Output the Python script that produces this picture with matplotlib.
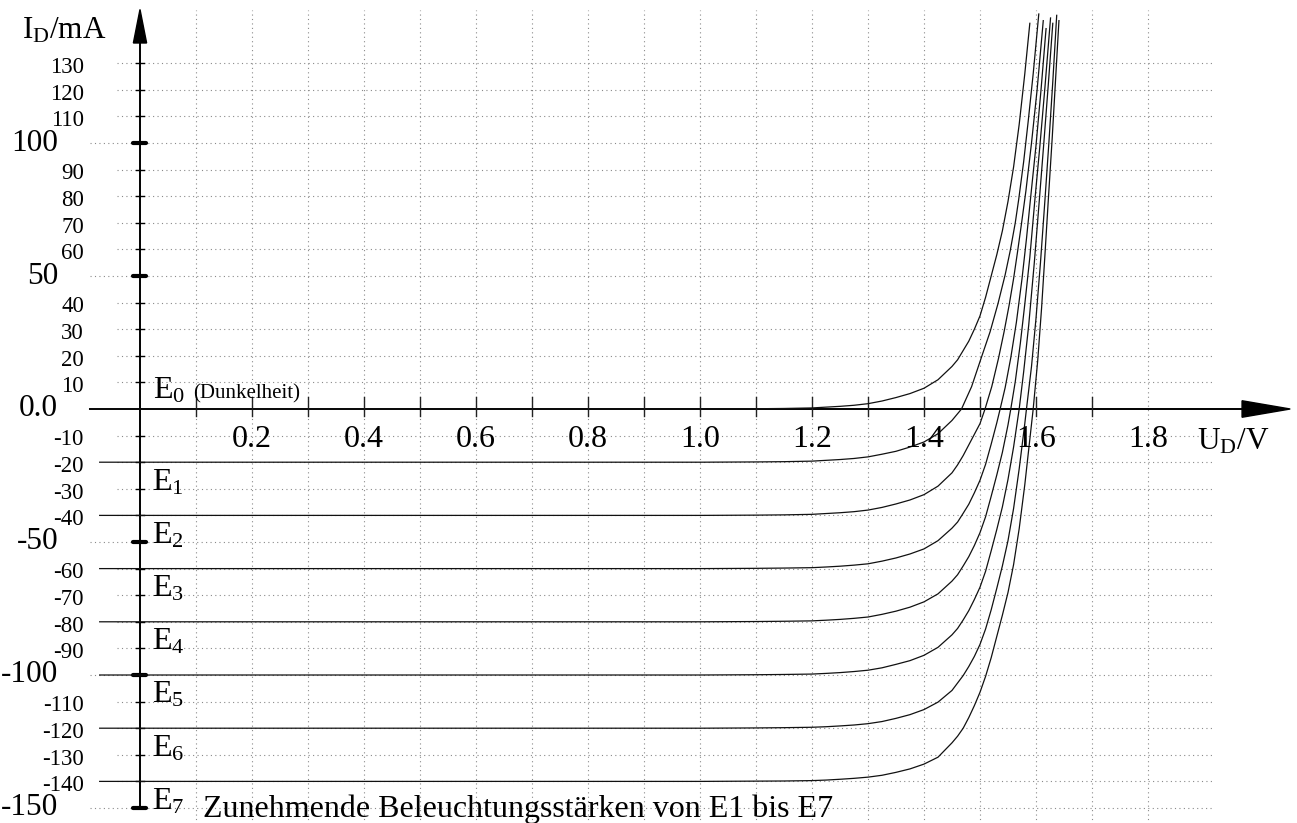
import matplotlib
matplotlib.use('Agg')
import matplotlib.pyplot as plt
from matplotlib.patches import Polygon

plt.rcParams['font.family'] = ['Liberation Serif', 'DejaVu Serif']
plt.rcParams['mathtext.fontset'] = 'custom'
plt.rcParams['mathtext.rm'] = 'Liberation Serif'
plt.rcParams['mathtext.it'] = 'Liberation Serif:italic'

# Kennlinien E0 (Dunkelheit) bis E7: U_D in V, I_D in mA
U0 = [-0.09, 1.0, 1.1, 1.15, 1.2, 1.225, 1.25, 1.275, 1.3, 1.325, 1.35, 1.375, 1.4, 1.425,
      1.45, 1.46, 1.47, 1.48, 1.49, 1.50, 1.51, 1.52, 1.53, 1.54, 1.55, 1.56, 1.57, 1.58, 1.589]
I0 = [0, 0, 0.1, 0.2, 0.4, 0.7, 1.0, 1.4, 2.0, 3.0, 4.3, 5.8, 7.8, 11,
      16, 18.5, 22, 25.5, 30, 35, 42, 50, 58, 67, 78, 91, 107, 126, 145]

U1 = [-0.072, 1.0, 1.1, 1.15, 1.2, 1.225, 1.25, 1.275, 1.3, 1.325, 1.35, 1.375, 1.4, 1.425,
      1.45, 1.467, 1.485, 1.503, 1.518, 1.532, 1.545, 1.554, 1.563, 1.569, 1.578, 1.586, 1.595, 1.605]
I1 = [-20, -20, -19.9, -19.8, -19.6, -19.3, -19.0, -18.6, -18.0, -17.0, -15.9, -14.3, -12.4, -9.3,
      -4.3, 0, 8.4, 19.7, 29, 39.5, 50.5, 59.5, 70, 78.6, 93, 108, 126, 148.5]

U2 = [-0.072, 1.0, 1.1, 1.15, 1.2, 1.225, 1.25, 1.275, 1.3, 1.325, 1.35, 1.375, 1.4, 1.425,
      1.45, 1.46, 1.47, 1.48, 1.49, 1.50, 1.509, 1.521, 1.533, 1.543, 1.552, 1.56, 1.567,
      1.574, 1.582, 1.592, 1.602, 1.613]
I2 = [-40, -40, -39.9, -39.8, -39.6, -39.3, -39.0, -38.6, -38.0, -37.0, -35.7, -34.2, -32.2, -29.0,
      -24, -21, -17.5, -13.5, -9.5, -5.5, 0, 8.4, 19, 29, 39, 49, 59,
      69.5, 82, 100, 120, 146]

U3 = [-0.072, 1.0, 1.1, 1.15, 1.2, 1.225, 1.25, 1.275, 1.3, 1.325, 1.35, 1.375, 1.4, 1.425,
      1.45, 1.46, 1.47, 1.48, 1.49, 1.50, 1.51, 1.52, 1.53, 1.536, 1.545, 1.555, 1.565,
      1.575, 1.583, 1.59, 1.60, 1.609, 1.618]
I3 = [-60, -60, -59.9, -59.8, -59.65, -59.4, -59.1, -58.7, -58.2, -57.2, -56.0, -54.5, -52.6, -49.5,
      -44.8, -42.5, -39.2, -35.8, -31.5, -26.8, -20.8, -13.2, -5.2, 0, 8.1, 19.3, 32.6,
      48.9, 64, 78.6, 99, 120, 143]

U4 = [-0.072, 1.0, 1.1, 1.15, 1.2, 1.225, 1.25, 1.275, 1.3, 1.325, 1.35, 1.375, 1.4, 1.425,
      1.45, 1.46, 1.47, 1.48, 1.49, 1.50, 1.51, 1.52, 1.53, 1.54, 1.55, 1.555, 1.563, 1.572,
      1.58, 1.589, 1.598, 1.607, 1.616, 1.626]
I4 = [-80, -80, -79.9, -79.8, -79.65, -79.4, -79.1, -78.7, -78.2, -77.2, -76.0, -74.5, -72.5, -69.5,
      -64.7, -62.3, -59, -55.5, -51.3, -46.5, -40.5, -32.8, -24.8, -16.3, -6.0, 0, 10.3, 24.6,
      39.4, 57, 78.6, 99, 121, 147]

U5 = [-0.072, 1.0, 1.1, 1.15, 1.2, 1.225, 1.25, 1.275, 1.3, 1.325, 1.35, 1.375, 1.4, 1.425,
      1.45, 1.46, 1.47, 1.48, 1.49, 1.50, 1.51, 1.52, 1.53, 1.54, 1.55, 1.56, 1.57, 1.578,
      1.587, 1.597, 1.606, 1.614, 1.622, 1.630]
I5 = [-100, -100, -99.9, -99.8, -99.65, -99.4, -99.1, -98.7, -98.2, -97.3, -96.0, -94.6, -92.6, -89.6,
      -84.9, -82.5, -79.3, -75.8, -71.6, -67, -61, -53.3, -45.3, -36.8, -26.5, -14.3, 0, 14,
      31.5, 55, 78.6, 100, 122, 145]

U6 = [-0.072, 1.0, 1.1, 1.15, 1.2, 1.225, 1.25, 1.275, 1.3, 1.325, 1.35, 1.375, 1.4, 1.425,
      1.45, 1.46, 1.47, 1.48, 1.49, 1.50, 1.51, 1.52, 1.53, 1.54, 1.55, 1.56, 1.57, 1.58,
      1.583, 1.592, 1.60, 1.608, 1.616, 1.623, 1.630, 1.637]
I6 = [-120, -120, -119.9, -119.8, -119.65, -119.45, -119.15, -118.8, -118.3, -117.5, -116.3, -114.9, -113.0, -110.2,
      -105.8, -103, -100.2, -96.8, -93, -88.5, -82.7, -75.5, -67.4, -59, -49.5, -37.4, -22.5, -5.5,
      0, 16, 34, 55, 78.6, 100, 123, 148]

U7 = [-0.072, 1.0, 1.1, 1.15, 1.2, 1.225, 1.25, 1.275, 1.3, 1.325, 1.35, 1.375, 1.4, 1.425,
      1.45, 1.46, 1.47, 1.48, 1.49, 1.50, 1.51, 1.52, 1.53, 1.54, 1.55, 1.56, 1.57, 1.58,
      1.59, 1.595, 1.603, 1.61, 1.616, 1.622, 1.629, 1.635, 1.641]
I7 = [-140, -140, -139.9, -139.85, -139.7, -139.5, -139.2, -138.85, -138.4, -137.7, -136.6, -135.3, -133.5, -130.9,
      -125.5, -123, -120, -116, -111.5, -106.5, -100.5, -93.5, -85.5, -77.5, -69, -58.5, -45, -28.5,
      -9.5, 0, 18, 38, 58, 78.6, 102, 124, 146]

curves = [(U0, I0), (U1, I1), (U2, I2), (U3, I3), (U4, I4), (U5, I5), (U6, I6), (U7, I7)]

# Achsenbeschriftung
x_grid = [0.1, 0.2, 0.3, 0.4, 0.5, 0.6, 0.7, 0.8, 0.9, 1.0, 1.1, 1.2, 1.3, 1.4, 1.5, 1.6, 1.7, 1.8]
x_ticks = [0.1, 0.2, 0.3, 0.4, 0.5, 0.6, 0.7, 0.8, 0.9, 1.0, 1.1, 1.2, 1.3, 1.4, 1.5, 1.6, 1.7]
x_labels = ['0.2', '0.4', '0.6', '0.8', '1.0', '1.2', '1.4', '1.6', '1.8']
y_minor = [130, 120, 110, 90, 80, 70, 60, 40, 30, 20, 10,
           -10, -20, -30, -40, -60, -70, -80, -90, -110, -120, -130, -140]
y_major = [100, 50, -50, -100, -150]
y_major_labels = ['100', '50', '0.0', '-50', '-100', '-150']
y_major_pos = [100, 50, 0, -50, -100, -150]
e_names = ['E$_1$', 'E$_2$', 'E$_3$', 'E$_4$', 'E$_5$', 'E$_6$', 'E$_7$']

fig = plt.figure(figsize=(12.97, 8.23), dpi=100)
ax = fig.add_axes([0, 0, 1, 1])
ax.set_xlim(-0.25, 2.0661)
ax.set_ylim(-155.64, 153.76)
ax.axis('off')

dots = (0, (1, 3))
for v in x_grid:
    ax.plot([v, v], [-158, 150], ls=dots, color='#8a8a8a', lw=0.8)
for i in y_minor + y_major:
    x0 = -0.089 if i % 50 == 0 else -0.041
    ax.plot([x0, 1.914], [i, i], ls=dots, color='#8a8a8a', lw=0.8)

# Achsen mit Pfeilen
ax.plot([-0.089, 1.97], [0, 0], color='black', lw=1.4)
ax.add_patch(Polygon([(1.968, -3.1), (2.054, 0), (1.968, 3.1)], closed=True, color='black'))
ax.plot([0, 0], [-150, 138], color='black', lw=1.4)
ax.add_patch(Polygon([(-0.0118, 137.6), (0, 150.2), (0.0118, 137.6)], closed=True, color='black'))

for v in x_ticks:
    ax.plot([v, v], [-2.5, 4.5], color='#222', lw=1.0)
for i in y_minor:
    ax.plot([-0.008, 0.008], [i, i], color='black', lw=1.0)
for i in y_major:
    ax.plot([-0.013, 0.011], [i, i], color='black', lw=3.0, solid_capstyle='round')

for u, i in curves:
    ax.plot(u, i, color='#111', lw=0.9)

# Texte
for i in y_minor:
    ax.text(-0.1, i - 1.6, str(i), ha='right', va='center', fontsize=16.5)
for lab, i in zip(y_major_labels, y_major_pos):
    ax.text(-0.146, i, lab, ha='right', va='center', fontsize=22.5)
for k, lab in enumerate(x_labels):
    ax.text(0.2 * (k + 1), -11.6, lab, ha='center', va='center', fontsize=23)

ax.text(-0.2107, 139.1, r'I$_\mathregular{D}$/mA', ha='left', va='baseline', fontsize=22.5)
ax.text(1.8875, -15.4, r'U$_\mathregular{D}$/V', ha='left', va='baseline', fontsize=22.5)

ax.text(0.023, 4.1, 'E$_0$', ha='left', va='baseline', fontsize=23)
ax.text(0.095, 4.1, '(Dunkelheit)', ha='left', va='baseline', fontsize=15)
for n, lab in enumerate(e_names, start=1):
    ax.text(0.0214, -20 * n - 10.5, lab, ha='left', va='baseline', fontsize=23)
ax.text(0.1125, -153.4, 'Zunehmende Beleuchtungsstärken von E1 bis E7',
        ha='left', va='baseline', fontsize=23)

fig.savefig('out.png', dpi=100)
